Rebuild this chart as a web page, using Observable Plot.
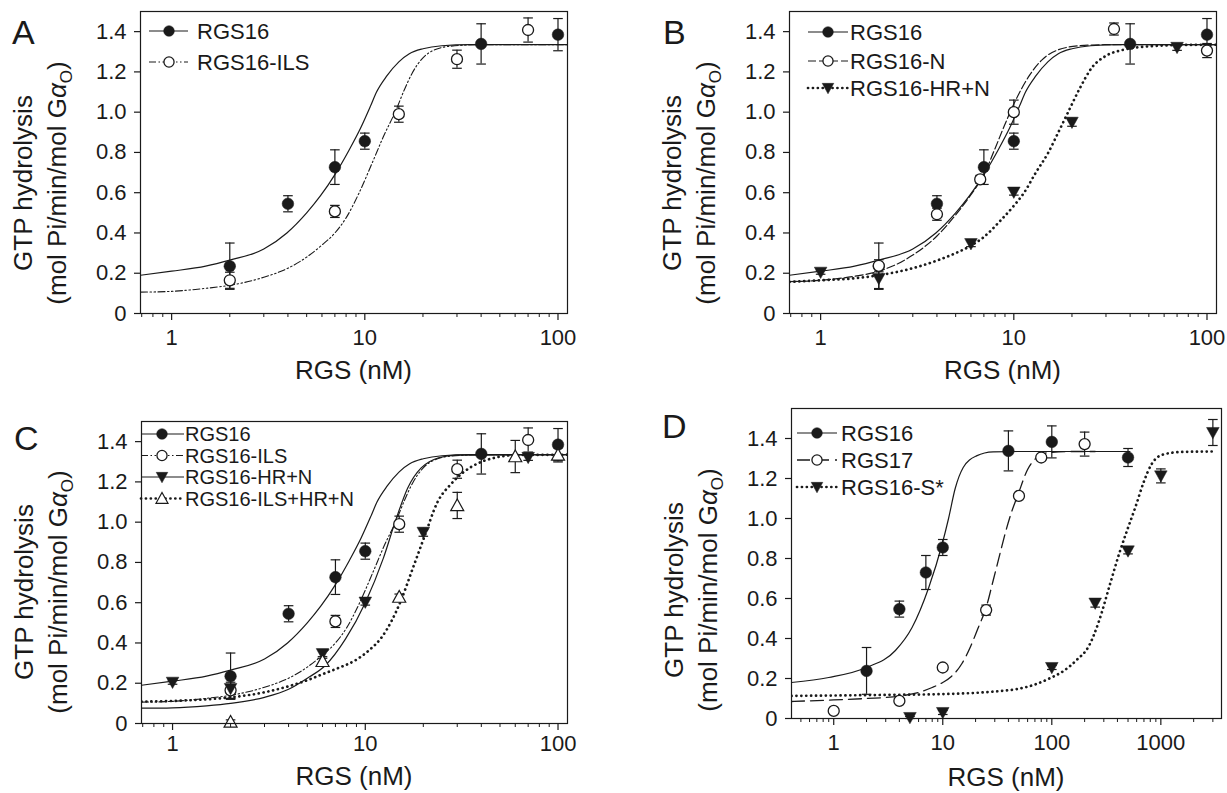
<!DOCTYPE html>
<html>
<head>
<meta charset="utf-8">
<script src="https://cdn.jsdelivr.net/npm/d3@7"></script>
<script src="https://cdn.jsdelivr.net/npm/@observablehq/plot@0.6"></script>
<style>
  html, body { margin: 0; padding: 0; background: #fff; }
  #fig { position: relative; width: 1227px; height: 793px; overflow: hidden; }
  #fig svg { position: absolute; }
</style>
</head>
<body>
<div id="fig"></div>
<script>
const INK = "#1a1a1a";
const FONT = '"Liberation Sans", Arial, Helvetica, sans-serif';

// ---------- ticks ----------
const yTicks = [0, 0.2, 0.4, 0.6, 0.8, 1.0, 1.2, 1.4];
const yTickLabels = ["0", "0.2", "0.4", "0.6", "0.8", "1.0", "1.2", "1.4"];
const xTicks3 = [1, 10, 100];
const xTickLabels3 = ["1", "10", "100"];
const xMinor3 = [0.7, 0.8, 0.9, 2, 3, 4, 5, 6, 7, 8, 9, 20, 30, 40, 50, 60, 70, 80, 90];
const xTicks4 = [1, 10, 100, 1000];
const xTickLabels4 = ["1", "10", "100", "1000"];
const xMinor4 = [0.5, 0.6, 0.7, 0.8, 0.9, 2, 3, 4, 5, 6, 7, 8, 9, 20, 30, 40, 50, 60, 70, 80, 90,
                 200, 300, 400, 500, 600, 700, 800, 900, 2000, 3000];

// ---------- measured points (x nM, y, error) ----------
const rgs16X = [2, 4, 7, 10, 40, 100];
const rgs16Y = [0.235, 0.545, 0.727, 0.856, 1.339, 1.385];
const rgs16Err = [0.115, 0.04, 0.086, 0.04, 0.1, 0.08];

const ilsX = [2, 7, 15, 30, 70];
const ilsY = [0.165, 0.507, 0.99, 1.263, 1.408];
const ilsErr = [0.04, 0.03, 0.04, 0.045, 0.06];

const nX = [2, 4, 6.7, 10, 33, 100];
const nY = [0.237, 0.493, 0.666, 1.0, 1.413, 1.306];
const nErr = [0.03, 0.03, 0.02, 0.06, 0.03, 0.035];

const hrnX = [1, 2, 6, 10, 20, 70];
const hrnY = [0.205, 0.174, 0.347, 0.603, 0.95, 1.322];
const hrnErr = [0.01, 0.05, 0.015, 0.015, 0.02, 0.015];

const ilsHrnX = [2, 6, 15, 30, 60, 100];
const ilsHrnY = [0.008, 0.309, 0.628, 1.083, 1.326, 1.334];
const ilsHrnErr = [0.01, 0.015, 0.015, 0.065, 0.08, 0.035];

const rgs16DX = [2, 4, 7, 10, 40, 100, 500];
const rgs16DY = [0.238, 0.547, 0.73, 0.855, 1.338, 1.383, 1.305];
const rgs16DErr = [0.117, 0.04, 0.085, 0.04, 0.1, 0.08, 0.045];

const rgs17X = [1, 4, 10, 25, 50, 80, 200];
const rgs17Y = [0.038, 0.088, 0.255, 0.542, 1.113, 1.305, 1.372];
const rgs17Err = [0.01, 0.01, 0.01, 0.025, 0.01, 0.01, 0.06];

const sStarX = [5, 10, 100, 250, 500, 1000, 3000];
const sStarY = [0.005, 0.03, 0.255, 0.577, 0.838, 1.213, 1.43];
const sStarErr = [0.005, 0.01, 0.01, 0.02, 0.015, 0.035, 0.065];

// ---------- fitted curves ----------
const fitRgs16X = [0.69, 1, 1.5, 2, 3, 3.95, 5, 5.9, 7, 8.27, 9.5, 10.7, 11.5, 13, 15, 17, 20, 25, 35, 112];
const fitRgs16Y = [0.19, 0.21, 0.235, 0.265, 0.32, 0.40, 0.50, 0.585, 0.69, 0.81, 0.92, 1.03, 1.10, 1.18, 1.25, 1.29, 1.315, 1.33, 1.335, 1.335];

const fitIlsX = [0.69, 1, 1.5, 2, 3, 4, 5, 6, 7, 8, 9.3, 11, 12.5, 14.5, 16, 17.5, 20, 23, 28, 40, 112];
const fitIlsY = [0.106, 0.11, 0.125, 0.14, 0.18, 0.225, 0.28, 0.34, 0.40, 0.475, 0.595, 0.755, 0.88, 1.01, 1.11, 1.19, 1.27, 1.31, 1.328, 1.335, 1.335];

const fitNX = [0.69, 1, 1.5, 2, 3, 4, 5, 6, 7, 8, 9, 10, 12, 14, 17, 22, 30, 112];
const fitNY = [0.158, 0.165, 0.185, 0.21, 0.29, 0.385, 0.49, 0.59, 0.69, 0.82, 0.94, 1.04, 1.18, 1.26, 1.31, 1.33, 1.335, 1.335];

const fitHrnBX = [0.69, 1, 1.5, 2, 3, 4, 5, 6, 7, 8.5, 10, 11.3, 13, 15.1, 17, 19.1, 22, 25.3, 30, 37, 50, 70, 112];
const fitHrnBY = [0.157, 0.165, 0.175, 0.19, 0.225, 0.263, 0.3, 0.337, 0.38, 0.46, 0.535, 0.6, 0.7, 0.8, 0.9, 1.0, 1.12, 1.22, 1.28, 1.31, 1.327, 1.333, 1.335];

const fitHrnCX = [0.69, 1, 1.5, 2, 3, 4, 5, 6.2, 7.9, 10, 12.4, 14.5, 16.6, 19.5, 21.5, 24, 30, 112];
const fitHrnCY = [0.076, 0.078, 0.088, 0.10, 0.13, 0.17, 0.225, 0.288, 0.42, 0.60, 0.82, 1.02, 1.17, 1.27, 1.30, 1.32, 1.333, 1.335];

const fitIlsHrnX = [0.69, 1, 1.5, 2, 3, 4, 5, 6, 7, 9.1, 10.5, 12.2, 13.7, 15.3, 17.6, 20.3, 23.7, 27.9, 32.5, 38, 47, 60, 112];
const fitIlsHrnY = [0.109, 0.112, 0.12, 0.13, 0.155, 0.185, 0.215, 0.245, 0.27, 0.32, 0.365, 0.43, 0.51, 0.61, 0.768, 0.93, 1.10, 1.19, 1.25, 1.29, 1.32, 1.333, 1.335];

const fitD16X = [0.41, 0.9, 2, 3.68, 5.23, 7.44, 9.85, 11.3, 13, 15.4, 20.4, 29, 50, 520];
const fitD16Y = [0.18, 0.205, 0.255, 0.34, 0.455, 0.655, 0.87, 1.0, 1.15, 1.255, 1.313, 1.333, 1.335, 1.335];

const fitD17X = [0.41, 1, 2, 4, 6, 8, 10, 12, 15, 18, 21, 25, 29, 33.4, 38, 42.6, 49, 60, 75, 95, 150, 250];
const fitD17Y = [0.085, 0.093, 0.1, 0.112, 0.13, 0.155, 0.18, 0.21, 0.275, 0.36, 0.45, 0.555, 0.69, 0.822, 0.94, 1.03, 1.12, 1.245, 1.31, 1.33, 1.335, 1.335];

const fitDSX = [0.41, 1, 3, 10, 30, 47.5, 70, 95, 130, 167, 220, 272, 337, 418, 490, 587, 694, 819, 1050, 1600, 3000];
const fitDSY = [0.113, 0.115, 0.118, 0.122, 0.135, 0.147, 0.17, 0.2, 0.24, 0.29, 0.365, 0.49, 0.66, 0.83, 0.94, 1.06, 1.18, 1.27, 1.32, 1.333, 1.335];

// ---------- helpers ----------
const pts = (xs, ys, es) => xs.map((x, i) => ({x, y: ys[i], e: es ? es[i] : 0}));

const triDown = {draw(ctx, size) { const r = Math.sqrt(size / Math.PI); ctx.moveTo(-r, -0.8 * r); ctx.lineTo(r, -0.8 * r); ctx.lineTo(0, r); ctx.closePath(); }};
const triUp = {draw(ctx, size) { const r = Math.sqrt(size / Math.PI); ctx.moveTo(-r, 0.8 * r); ctx.lineTo(r, 0.8 * r); ctx.lineTo(0, -r); ctx.closePath(); }};
const capSym = {draw(ctx, size) { const r = Math.sqrt(size / Math.PI); ctx.moveTo(-r, 0); ctx.lineTo(r, 0); }};

const MARK = {
  filled: {symbol: "circle", r: 5.8, fill: INK, stroke: INK, strokeWidth: 0.5},
  open: {symbol: "circle", r: 5.5, fill: "white", stroke: INK, strokeWidth: 1.3},
  down: {symbol: triDown, r: 6.3, fill: INK, stroke: INK, strokeWidth: 0.5},
  upOpen: {symbol: triUp, r: 6.5, fill: "white", stroke: INK, strokeWidth: 1.2}
};
const LINE = {
  solid: {strokeWidth: 1.2},
  ils: {strokeWidth: 1.1, strokeDasharray: "7,2.5,1.5,2.5,1.5,2.5"},
  dashed: {strokeWidth: 1.2, strokeDasharray: "8,3"},
  longdash: {strokeWidth: 1.3, strokeDasharray: "13,6"},
  dotted: {strokeWidth: 2.7, strokeDasharray: "0.1,4.8", strokeLinecap: "round"}
};

function panel(cfg) {
  const marks = [];
  for (const c of cfg.curves) {
    marks.push(Plot.line(c.data, {x: "x", y: "y", stroke: INK, curve: "monotone-x", clip: true, ...LINE[c.style]}));
  }
  for (const s of cfg.series) {
    const eb = s.data.filter(d => d.e > 0);
    marks.push(Plot.ruleX(eb, {x: "x", y1: d => d.y - d.e, y2: d => d.y + d.e, stroke: INK, strokeWidth: 1.2}));
    marks.push(Plot.dot(eb, {x: "x", y: d => d.y + d.e, symbol: capSym, r: 4.8, stroke: INK, strokeWidth: 1.2}));
    marks.push(Plot.dot(eb, {x: "x", y: d => d.y - d.e, symbol: capSym, r: 4.8, stroke: INK, strokeWidth: 1.2}));
  }
  for (const s of cfg.series) {
    marks.push(Plot.dot(s.data, {x: "x", y: "y", ...MARK[s.marker]}));
  }
  const yLab = new Map(yTicks.map((t, i) => [t, yTickLabels[i]]));
  const xLab = new Map(cfg.xTicks.map((t, i) => [t, cfg.xTickLabels[i]]));
  marks.push(Plot.frame({stroke: INK, strokeWidth: 1.2}));
  marks.push(Plot.axisY({ticks: yTicks, tickFormat: d => yLab.get(d), tickSize: 6, tickPadding: 8, label: null, strokeWidth: 1.2, fontSize: 22}));
  marks.push(Plot.axisX({ticks: cfg.xTicks, tickFormat: d => xLab.get(d), tickSize: 7, tickPadding: cfg.xPad, label: null, strokeWidth: 1.2, fontSize: 22}));
  marks.push(Plot.axisX({ticks: cfg.xMinor, tickFormat: () => "", tickSize: 4, label: null, strokeWidth: 1}));

  const svg = Plot.plot({
    width: cfg.w, height: cfg.h,
    marginLeft: cfg.m[0], marginRight: cfg.m[1], marginTop: cfg.m[2], marginBottom: cfg.m[3],
    x: {type: "log", domain: cfg.xDomain},
    y: {domain: cfg.yDomain},
    style: {fontFamily: FONT, fontSize: "22px", color: INK, background: "transparent", overflow: "visible"},
    marks
  });
  svg.style.left = cfg.left + "px";
  svg.style.top = cfg.top + "px";
  svg.setAttribute("width", cfg.w);
  svg.setAttribute("height", cfg.h);
  const g = d3.select(svg).append("g").attr("font-family", FONT).attr("fill", INK).attr("text-anchor", "start");

  // panel letter
  g.append("text").attr("x", cfg.letterPos[0]).attr("y", cfg.letterPos[1])
    .attr("text-anchor", "start").attr("font-size", 34).text(cfg.letter);

  // y title (two lines, rotated)
  g.append("text").attr("transform", `translate(${cfg.yTitle[0]},${cfg.yTitle[2]}) rotate(-90)`)
    .attr("text-anchor", "middle").attr("font-size", 26).text("GTP hydrolysis");
  const yt2 = g.append("text").attr("transform", `translate(${cfg.yTitle[1]},${cfg.yTitle[2]}) rotate(-90)`)
    .attr("text-anchor", "middle").attr("font-size", 26);
  yt2.append("tspan").text("(mol Pi/min/mol G");
  yt2.append("tspan").attr("font-style", "italic").text("α");
  yt2.append("tspan").attr("font-size", 17).attr("dy", 6).text("O");
  yt2.append("tspan").attr("dy", -6).text(")");

  // x title
  g.append("text").attr("x", (cfg.m[0] + cfg.w - cfg.m[1]) / 2).attr("y", cfg.xTitleY)
    .attr("text-anchor", "middle").attr("font-size", 26).text("RGS (nM)");

  // legend
  const L = cfg.legend;
  L.rows.forEach((row, i) => {
    const y = L.ys[i];
    g.append("line").attr("x1", L.x1).attr("x2", L.x2).attr("y1", y).attr("y2", y)
      .attr("stroke", INK)
      .attr("stroke-width", LINE[row.style].strokeWidth)
      .attr("stroke-dasharray", LINE[row.style].strokeDasharray || null)
      .attr("stroke-linecap", LINE[row.style].strokeLinecap || null);
    const mk = MARK[row.marker];
    const type = mk.symbol === "circle" ? d3.symbolCircle : mk.symbol;
    g.append("path").attr("transform", `translate(${L.mx},${y})`)
      .attr("d", d3.symbol(type, mk.r * mk.r * Math.PI * 0.85)())
      .attr("fill", mk.fill).attr("stroke", mk.stroke).attr("stroke-width", mk.strokeWidth);
    g.append("text").attr("x", L.tx).attr("y", y).attr("dy", "0.36em")
      .attr("text-anchor", "start").attr("font-size", L.fs).text(row.label);
  });
  document.getElementById("fig").appendChild(svg);
}

// ---------- Panel A ----------
panel({
  left: 0, top: 0, w: 613, h: 396, m: [140, 46, 11, 83],
  xDomain: [0.69, 112], yDomain: [0, 1.5],
  xTicks: xTicks3, xTickLabels: xTickLabels3, xMinor: xMinor3, xPad: 9,
  letter: "A", letterPos: [12, 44], yTitle: [32, 66, 183], xTitleY: 379,
  curves: [
    {data: pts(fitRgs16X, fitRgs16Y), style: "solid"},
    {data: pts(fitIlsX, fitIlsY), style: "ils"}
  ],
  series: [
    {data: pts(rgs16X, rgs16Y, rgs16Err), marker: "filled"},
    {data: pts(ilsX, ilsY, ilsErr), marker: "open"}
  ],
  legend: {x1: 149, x2: 188, mx: 169, tx: 197, fs: 22, ys: [31, 62], rows: [
    {label: "RGS16", style: "solid", marker: "filled"},
    {label: "RGS16-ILS", style: "ils", marker: "open"}
  ]}
});

// ---------- Panel B ----------
panel({
  left: 613, top: 0, w: 614, h: 396, m: [176, 11, 11, 83],
  xDomain: [0.69, 112], yDomain: [0, 1.5],
  xTicks: xTicks3, xTickLabels: xTickLabels3, xMinor: xMinor3, xPad: 9,
  letter: "B", letterPos: [50, 44], yTitle: [68, 102, 183], xTitleY: 379,
  curves: [
    {data: pts(fitRgs16X, fitRgs16Y), style: "solid"},
    {data: pts(fitNX, fitNY), style: "dashed"},
    {data: pts(fitHrnBX, fitHrnBY), style: "dotted"}
  ],
  series: [
    {data: pts(rgs16X, rgs16Y, rgs16Err), marker: "filled"},
    {data: pts(nX, nY, nErr), marker: "open"},
    {data: pts(hrnX, hrnY, hrnErr), marker: "down"}
  ],
  legend: {x1: 195, x2: 235, mx: 215, tx: 237, fs: 22, ys: [32, 61, 88], rows: [
    {label: "RGS16", style: "solid", marker: "filled"},
    {label: "RGS16-N", style: "dashed", marker: "open"},
    {label: "RGS16-HR+N", style: "dotted", marker: "down"}
  ]}
});

// ---------- Panel C ----------
panel({
  left: 0, top: 396, w: 613, h: 397, m: [141, 46, 25, 70],
  xDomain: [0.69, 112], yDomain: [0, 1.5],
  xTicks: xTicks3, xTickLabels: xTickLabels3, xMinor: xMinor3, xPad: 5,
  letter: "C", letterPos: [14, 54], yTitle: [33, 67, 196], xTitleY: 389,
  curves: [
    {data: pts(fitRgs16X, fitRgs16Y), style: "solid"},
    {data: pts(fitIlsX, fitIlsY), style: "ils"},
    {data: pts(fitHrnCX, fitHrnCY), style: "solid"},
    {data: pts(fitIlsHrnX, fitIlsHrnY), style: "dotted"}
  ],
  series: [
    {data: pts(rgs16X, rgs16Y, rgs16Err), marker: "filled"},
    {data: pts(ilsX, ilsY, ilsErr), marker: "open"},
    {data: pts(hrnX, hrnY, hrnErr), marker: "down"},
    {data: pts(ilsHrnX, ilsHrnY, ilsHrnErr), marker: "upOpen"}
  ],
  legend: {x1: 141, x2: 184, mx: 162, tx: 185, fs: 20, ys: [38, 59.5, 81, 102.5], rows: [
    {label: "RGS16", style: "solid", marker: "filled"},
    {label: "RGS16-ILS", style: "ils", marker: "open"},
    {label: "RGS16-HR+N", style: "solid", marker: "down"},
    {label: "RGS16-ILS+HR+N", style: "dotted", marker: "upOpen"}
  ]}
});

// ---------- Panel D ----------
panel({
  left: 613, top: 396, w: 614, h: 397, m: [178, 6, 12, 75],
  xDomain: [0.41, 3600], yDomain: [0, 1.55],
  xTicks: xTicks4, xTickLabels: xTickLabels4, xMinor: xMinor4, xPad: 9,
  letter: "D", letterPos: [49, 42], yTitle: [70, 104, 194], xTitleY: 390,
  curves: [
    {data: pts(fitD16X, fitD16Y), style: "solid"},
    {data: pts(fitD17X, fitD17Y), style: "longdash"},
    {data: pts(fitDSX, fitDSY), style: "dotted"}
  ],
  series: [
    {data: pts(rgs16DX, rgs16DY, rgs16DErr), marker: "filled"},
    {data: pts(rgs17X, rgs17Y, rgs17Err), marker: "open"},
    {data: pts(sStarX, sStarY, sStarErr), marker: "down"}
  ],
  legend: {x1: 184, x2: 224, mx: 204, tx: 228, fs: 22, ys: [37, 64, 91], rows: [
    {label: "RGS16", style: "solid", marker: "filled"},
    {label: "RGS17", style: "longdash", marker: "open"},
    {label: "RGS16-S*", style: "dotted", marker: "down"}
  ]}
});
</script>
</body>
</html>
